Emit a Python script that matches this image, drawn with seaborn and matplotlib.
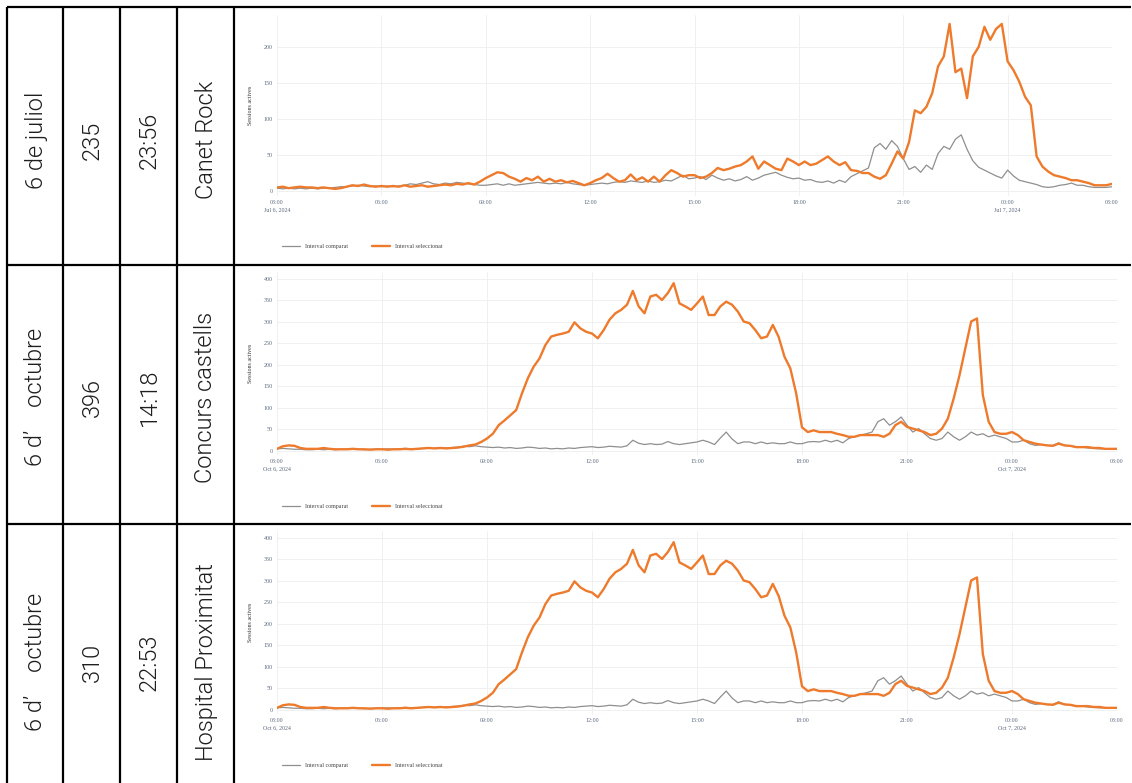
import numpy as np
import pandas as pd
import matplotlib
matplotlib.use('Agg')
import matplotlib.pyplot as plt
import seaborn as sns

# table text, one entry per row
dates = ['6 de juliol', '6 d\u2019    octubre', '6 d\u2019    octubre']
peaks = ['235', '396', '310']
hours = ['23:56', '14:18', '22:53']
events = ['Canet Rock', 'Concurs castells', 'Hospital Proximitat']

# active sessions read every 10 minutes, 03:00 -> 03:00 next day
jul_selected = [
    5, 6, 4, 5, 6, 5,
    5, 4, 5, 4, 3, 4,
    6, 8, 7, 9, 7, 6,
    7, 6, 7, 6, 8, 6,
    7, 8, 6, 7, 8, 9,
    8, 10, 9, 11, 9, 13,
    18, 22, 26, 25, 20, 17,
    13, 18, 15, 20, 13, 17,
    13, 15, 12, 14, 11, 8,
    11, 15, 18, 24, 18, 13,
    15, 23, 15, 19, 13, 20,
    13, 22, 29, 25, 20, 22,
    22, 18, 20, 25, 32, 29,
    31, 34, 36, 41, 48, 31,
    41, 36, 31, 29, 45, 41,
    36, 41, 36, 38, 43, 48,
    41, 36, 40, 29, 28, 25,
    25, 20, 17, 22, 38, 55,
    45, 68, 112, 108, 117, 136,
    173, 187, 232, 165, 170, 129,
    187, 200, 228, 210, 225, 232,
    180, 168, 152, 131, 119, 48,
    34, 27, 22, 20, 18, 15,
    15, 13, 11, 8, 8, 8,
    10]
jul_compared = [
    4, 3, 4, 3, 4, 3,
    4, 3, 4, 4, 5, 6,
    6, 7, 8, 7, 6, 7,
    6, 7, 6, 7, 8, 10,
    9, 11, 13, 10, 9, 11,
    10, 12, 11, 10, 9, 8,
    8, 9, 10, 8, 10, 8,
    9, 10, 11, 12, 11, 10,
    11, 10, 12, 10, 9, 8,
    9, 10, 11, 10, 12, 13,
    12, 14, 13, 12, 14, 12,
    13, 15, 14, 18, 22, 17,
    18, 20, 16, 22, 18, 15,
    17, 14, 16, 20, 15, 18,
    22, 24, 26, 22, 19, 17,
    18, 15, 16, 13, 12, 14,
    11, 15, 12, 20, 24, 28,
    32, 60, 66, 58, 70, 62,
    45, 30, 34, 26, 36, 30,
    52, 62, 58, 72, 78, 58,
    42, 33, 29, 25, 21, 18,
    29, 21, 15, 13, 11, 9,
    6, 5, 6, 8, 9, 11,
    8, 8, 6, 5, 5, 5,
    6]
oct_selected = [
    5, 11, 13, 12, 7, 5,
    5, 5, 7, 5, 4, 4,
    4, 5, 4, 4, 3, 4,
    4, 3, 4, 4, 5, 4,
    5, 6, 7, 6, 7, 6,
    7, 8, 10, 13, 15, 21,
    29, 40, 60, 71, 83, 95,
    134, 169, 196, 215, 246, 266,
    270, 273, 277, 299, 285, 277,
    273, 262, 281, 305, 320, 328,
    340, 372, 336, 320, 359, 363,
    351, 367, 390, 343, 336, 328,
    343, 359, 316, 316, 336, 347,
    340, 324, 301, 297, 281, 262,
    266, 293, 265, 219, 192, 134,
    55, 44, 48, 44, 44, 44,
    40, 37, 33, 33, 37, 37,
    37, 37, 33, 40, 60, 68,
    56, 52, 48, 44, 37, 40,
    52, 75, 122, 176, 238, 301,
    308, 130, 68, 44, 40, 40,
    44, 37, 25, 21, 17, 15,
    13, 12, 17, 13, 12, 9,
    9, 9, 7, 7, 5, 5,
    5]
oct_compared = [
    5, 6, 5, 4, 4, 3,
    3, 4, 3, 4, 3, 4,
    4, 5, 4, 3, 4, 4,
    4, 5, 4, 5, 6, 5,
    5, 6, 7, 6, 8, 7,
    8, 9, 11, 10, 12, 10,
    9, 8, 9, 7, 8, 6,
    7, 9, 8, 6, 7, 5,
    6, 5, 7, 6, 8, 9,
    10, 8, 9, 11, 10, 9,
    12, 25, 18, 15, 17, 15,
    16, 22, 17, 15, 17, 19,
    21, 25, 21, 15, 30, 44,
    28, 17, 21, 21, 17, 21,
    17, 19, 17, 17, 21, 17,
    17, 21, 22, 21, 25, 21,
    25, 19, 29, 33, 37, 40,
    44, 68, 75, 60, 68, 79,
    60, 44, 52, 40, 29, 25,
    29, 44, 33, 25, 33, 44,
    37, 40, 33, 37, 33, 29,
    21, 21, 25, 17, 13, 15,
    13, 13, 19, 13, 12, 9,
    9, 7, 6, 5, 5, 5,
    5]

day_starts = ['2024-07-06 03:00', '2024-10-06 03:00', '2024-10-06 03:00']
selected = [jul_selected, oct_selected, oct_selected]
compared = [jul_compared, oct_compared, oct_compared]
tick_labels = [
    ['03:00\nJul 6, 2024', '06:00', '09:00', '12:00', '15:00', '18:00', '21:00', '00:00\nJul 7, 2024', '03:00'],
    ['03:00\nOct 6, 2024', '06:00', '09:00', '12:00', '15:00', '18:00', '21:00', '00:00\nOct 7, 2024', '03:00'],
    ['03:00\nOct 6, 2024', '06:00', '09:00', '12:00', '15:00', '18:00', '21:00', '00:00\nOct 7, 2024', '03:00'],
]
y_ticks = [[0, 50, 100, 150, 200], list(range(0, 401, 50)), list(range(0, 401, 50))]
y_label = 'Sessions actives'
name_cmp = 'Interval comparat'
name_sel = 'Interval seleccionat'

# layout in pixels
W, H = 1132, 783
col_lines = [7, 63, 120, 177, 234]
row_lines = [7, 265, 524]
col_centers = [36, 92, 149, 206]
row_text_y = [140, 397, 662]
# (left, top, right, bottom, ymin, ymax) for each chart
chart_boxes = [
    (277, 15, 1112, 196, -6.9, 244.4),
    (277, 272, 1117, 455, -9.3, 416),
    (277, 531, 1117, 714, -9.3, 416),
]

sns.set_style('white')
plt.rcParams['font.family'] = ['Roboto', 'DejaVu Sans']

fig = plt.figure(figsize=(W / 100, H / 100), dpi=100)

# background axes for the table grid and rotated texts
bg = fig.add_axes([0, 0, 1, 1])
bg.set_xlim(0, W)
bg.set_ylim(H, 0)
bg.axis('off')
for x in col_lines:
    bg.plot([x, x], [row_lines[0], H], color='black', lw=1.6, solid_capstyle='butt')
for y in row_lines:
    bg.plot([col_lines[0], W - 1], [y, y], color='black', lw=1.6, solid_capstyle='butt')

for i in range(3):
    for j, txt in enumerate([dates[i], peaks[i], hours[i], events[i]]):
        bg.text(col_centers[j], row_text_y[i], txt, rotation=90, ha='center', va='center',
                rotation_mode='anchor', fontsize=17, fontweight=300, color='#1e1e1e')

tick_color = '#5d6b80'
for i in range(3):
    left, top, right, bottom, ymin, ymax = chart_boxes[i]
    ax = fig.add_axes([left / W, 1 - bottom / H, (right - left) / W, (bottom - top) / H])
    times = pd.date_range(day_starts[i], periods=len(selected[i]), freq='10min')
    df = pd.DataFrame({'time': times, 'cmp': compared[i], 'sel': selected[i]})
    sns.lineplot(data=df, x='time', y='cmp', ax=ax, color='#8f8f8f', lw=0.9, label=name_cmp)
    sns.lineplot(data=df, x='time', y='sel', ax=ax, color='#ee7a2c', lw=1.7, label=name_sel)
    ax.set_xlim(times[0], times[-1])
    ax.set_ylim(ymin, ymax)
    xt = pd.date_range(day_starts[i], periods=9, freq='3h')
    ax.set_xticks(xt)
    ax.set_xticklabels(tick_labels[i], fontsize=4.3, color=tick_color, family='Liberation Serif',
                       linespacing=1.5)
    ax.set_yticks(y_ticks[i])
    ax.set_yticklabels([str(v) for v in y_ticks[i]], fontsize=4.3, color=tick_color,
                       family='Liberation Serif')
    ax.tick_params(length=0, pad=3)
    ax.grid(True, color='#eeeeee', lw=0.6)
    for s in ax.spines.values():
        s.set_visible(False)
    ax.set_xlabel('')
    ax.set_ylabel(y_label, fontsize=4.3, color='#333333', family='Liberation Serif', labelpad=8)
    ax.legend(loc='center left', bbox_to_anchor=(0.0, -0.28), ncol=2, frameon=False,
              prop={'family': 'Liberation Serif', 'size': 4.3}, handlelength=3, columnspacing=4,
              labelcolor='#444444')

fig.savefig('out.png', dpi=100)
